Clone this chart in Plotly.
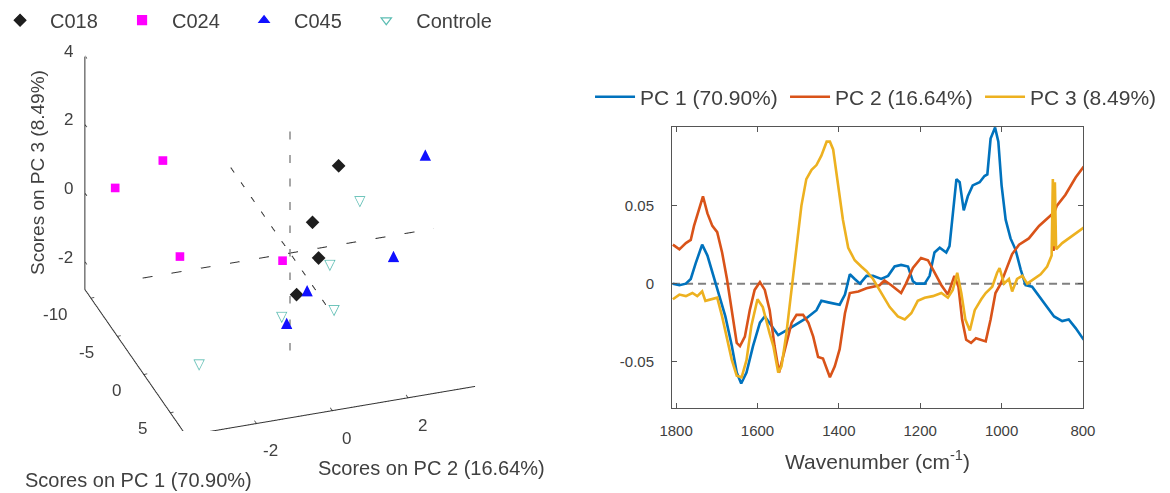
import plotly.graph_objects as go

# ---------------- Right panel: PCA loadings ----------------
pc1_wn = [1808,1792,1776,1764,1752,1736,1723,1711,1695,1679,1663,1651,1640,1627,1611,1594,1582,1566,1549,1529,1504,1479,1455,1443,1426,1398,1385,1373,1361,1348,1332,1316,1296,1279,1263,1247,1230,1218,1210,1189,1177,1165,1152,1136,1128,1120,1111,1103,1093,1083,1071,1054,1042,1035,1027,1016,1008,1000,990,978,966,953,941,925,908,892,871,851,835,818,798]
pc1_val = [0.0,-0.001,0.0,0.003,0.013,0.025,0.018,0.007,-0.006,-0.021,-0.040,-0.057,-0.064,-0.057,-0.040,-0.025,-0.021,-0.027,-0.033,-0.030,-0.026,-0.022,-0.017,-0.011,-0.012,-0.0135,-0.007,0.006,0.003,0.0,0.005,0.005,0.003,0.005,0.011,0.012,0.011,0.0015,0.0,0.0,0.005,0.020,0.023,0.020,0.024,0.043,0.067,0.065,0.047,0.056,0.063,0.065,0.069,0.070,0.093,0.100,0.091,0.063,0.041,0.029,0.022,0.009,-0.001,-0.002,-0.008,-0.0135,-0.021,-0.024,-0.023,-0.0285,-0.036]

pc2_wn = [1808,1792,1776,1764,1756,1744,1734,1723,1711,1699,1687,1675,1663,1651,1643,1631,1619,1607,1594,1582,1570,1558,1547,1533,1516,1504,1488,1475,1463,1451,1439,1422,1410,1398,1385,1373,1352,1332,1316,1300,1288,1271,1247,1235,1218,1198,1181,1165,1148,1132,1116,1106,1097,1087,1075,1063,1050,1039,1027,1015,1002,990,974,957,933,908,884,874,872,870,864,843,818,798]
pc2_val = [0.025,0.022,0.026,0.028,0.037,0.047,0.056,0.045,0.037,0.033,0.020,0.003,-0.019,-0.038,-0.040,-0.034,-0.017,-0.004,0.001,-0.004,-0.017,-0.040,-0.057,-0.042,-0.025,-0.020,-0.020,-0.025,-0.034,-0.047,-0.048,-0.060,-0.053,-0.042,-0.019,-0.006,-0.005,-0.003,-0.002,-0.001,0.002,-0.001,-0.006,0.0,0.010,0.0165,0.015,0.007,-0.001,-0.007,0.005,-0.002,-0.023,-0.036,-0.038,-0.035,-0.036,-0.037,-0.023,-0.006,0.0,0.008,0.019,0.025,0.029,0.037,0.043,0.045,0.021,0.046,0.050,0.057,0.068,0.075]

pc3_wn = [1808,1792,1776,1760,1748,1736,1728,1715,1699,1687,1675,1663,1651,1639,1627,1615,1600,1587,1570,1561,1549,1541,1529,1516,1504,1492,1480,1467,1455,1443,1430,1422,1414,1402,1390,1377,1361,1345,1332,1316,1296,1275,1255,1238,1222,1206,1189,1169,1148,1132,1120,1109,1099,1089,1078,1066,1050,1039,1023,1011,1005,994,982,974,962,949,937,920,904,888,877,874,871,869,866,851,835,818,798]
pc3_val = [-0.010,-0.007,-0.008,-0.006,-0.008,-0.005,-0.011,-0.010,-0.009,-0.021,-0.034,-0.049,-0.059,-0.060,-0.049,-0.027,-0.010,-0.015,-0.032,-0.040,-0.057,-0.053,-0.032,-0.002,0.024,0.050,0.067,0.073,0.076,0.082,0.091,0.091,0.086,0.063,0.041,0.023,0.015,0.011,0.008,0.003,-0.006,-0.015,-0.021,-0.023,-0.019,-0.011,-0.009,-0.008,-0.006,-0.009,-0.004,0.007,-0.006,-0.023,-0.030,-0.017,-0.010,-0.006,-0.002,0.007,0.010,0.0,0.003,-0.005,0.003,0.005,0.0,0.003,0.006,0.011,0.018,0.067,0.024,0.065,0.022,0.026,0.029,0.032,0.036]

loading_names = ["PC 1 (70.90%)", "PC 2 (16.64%)", "PC 3 (8.49%)"]
loading_colors = ["#0072BD", "#D95319", "#EDB120"]
x_ticks = [1800, 1600, 1400, 1200, 1000, 800]
y_ticks = [-0.05, 0, 0.05]
y_ticktext = ["-0.05", "0", "0.05"]
x_range = [1810, 800]
y_range = [-0.0797, 0.1004]

# ---------------- Left panel: PCA scores ----------------
groups = ["C018", "C024", "C045", "Controle"]
scores_pc1 = {
    "C018": [-2, -1, 0, 2],
    "C024": [-9, -8, -7, -6],
    "C045": [1, 3, 3, 5],
    "Controle": [0, 2, 5, 5, 7],
}
scores_pc2 = {
    "C018": [1.56, 0.73, 0.75, -0.11],
    "C024": [-3.36, -2.24, -1.93, 0.64],
    "C045": [3.43, 2.31, 0.03, -0.79],
    "Controle": [1.84, 0.77, 0.46, -0.92, -3.38],
}
scores_pc3 = {
    "C018": [1.81, 0.54, -0.28, -0.74],
    "C024": [0.53, 1.34, -1.29, -1.67],
    "C045": [2.44, 0.14, -0.43, -0.78],
    "Controle": [1.15, -0.06, -0.65, -0.59, -1.07],
}
pc1_range = [-11.2, 8.07]
pc2_range = [-3.89, 3.8]
pc3_range = [-2.84, 4.0]
pc1_ticks = [-10, -5, 0, 5]
pc2_ticks = [-2, 0, 2]
pc3_ticks = [-2, 0, 2, 4]

group_style = {
    "C018": dict(color="#1e1e1e", legend_symbol="diamond", kind="marker", sym3d="diamond", size=4.5, leg="legend"),
    "C024": dict(color="#ff00ff", legend_symbol="square", kind="marker", sym3d="square", size=4.5, leg="legend"),
    "C045": dict(color="#1010ff", legend_symbol="triangle-up", kind="text", glyph="▲", size=15, leg="legend"),
    "Controle": dict(color="#5cbdb3", legend_symbol="triangle-down-open", kind="text", glyph="▽", size=15, leg="legend3"),
}

FONT = "Liberation Sans, Arial, sans-serif"
TXT = "#404040"
AX = "#333333"

fig = go.Figure()

# 3D score traces
for g in groups:
    st = group_style[g]
    if st["kind"] == "marker":
        fig.add_trace(go.Scatter3d(
            x=scores_pc1[g], y=scores_pc2[g], z=scores_pc3[g], mode="markers",
            marker=dict(symbol=st["sym3d"], size=st["size"], color=st["color"],
                        line=dict(width=0)),
            showlegend=False, scene="scene", hoverinfo="skip"))
    else:
        fig.add_trace(go.Scatter3d(
            x=scores_pc1[g], y=scores_pc2[g], z=scores_pc3[g], mode="text",
            text=[st["glyph"]] * len(scores_pc1[g]), textposition="middle center",
            textfont=dict(color=st["color"], size=st["size"], family="DejaVu Sans"),
            showlegend=False, scene="scene", hoverinfo="skip"))

# dashed zero axes through the origin, spanning the axis limits
fig.add_trace(go.Scatter3d(x=[0, 0], y=[0, 0], z=pc3_range, mode="lines",
                           line=dict(color="#8a8a8a", width=3, dash="longdash"),
                           showlegend=False, scene="scene", hoverinfo="skip"))
fig.add_trace(go.Scatter3d(x=pc1_range, y=[0, 0], z=[0, 0], mode="lines",
                           line=dict(color="#333333", width=2, dash="longdash"),
                           showlegend=False, scene="scene", hoverinfo="skip"))
fig.add_trace(go.Scatter3d(x=[0, 0], y=pc2_range, z=[0, 0], mode="lines",
                           line=dict(color="#333333", width=2, dash="longdash"),
                           showlegend=False, scene="scene", hoverinfo="skip"))

# visible box edges (z edge at back-left, PC1 and PC2 edges along the floor),
# nudged a hair inside the box so they are not hidden by the invisible wall planes
x0, x1 = pc1_range
y0, y1 = pc2_range
z0, z1 = pc3_range
ex, ey, ez = 0.004 * (x1 - x0), 0.004 * (y1 - y0), 0.004 * (z1 - z0)
edge_x = [x0 + ex, x0 + ex, x1 - ex, x1 - ex]
edge_y = [y0 + ey, y0 + ey, y0 + ey, y1 - ey]
edge_z = [z1 - ez, z0 + ez, z0 + ez, z0 + ez]
# short inward tick marks
tk_x, tk_y, tk_z = [], [], []
for t in pc3_ticks:
    tk_x += [x0 + ex, x0 + 0.45, None]; tk_y += [y0 + ey, y0 + ey, None]; tk_z += [t, t, None]
for t in pc1_ticks:
    tk_x += [t, t, None]; tk_y += [y0 + ey, y0 + 0.12, None]; tk_z += [z0 + ez, z0 + ez, None]
for t in pc2_ticks:
    tk_x += [x1 - ex, x1 - 0.45, None]; tk_y += [t, t, None]; tk_z += [z0 + ez, z0 + ez, None]
fig.add_trace(go.Scatter3d(x=edge_x, y=edge_y, z=edge_z, mode="lines",
                           line=dict(color=AX, width=2), showlegend=False,
                           scene="scene", hoverinfo="skip"))
fig.add_trace(go.Scatter3d(x=tk_x, y=tk_y, z=tk_z, mode="lines",
                           line=dict(color=AX, width=1.5), showlegend=False,
                           scene="scene", hoverinfo="skip", connectgaps=False))

# legend entries for the score groups
for g in groups:
    st = group_style[g]
    fig.add_trace(go.Scatter(
        x=[None], y=[None], mode="markers", name=g,
        marker=dict(symbol=st["legend_symbol"], size=9, color=st["color"],
                    line=dict(color=st["color"], width=1.2)),
        legend=st["leg"], xaxis="x", yaxis="y"))

# loading lines
for wn, val, name, col in zip([pc1_wn, pc2_wn, pc3_wn], [pc1_val, pc2_val, pc3_val],
                              loading_names, loading_colors):
    fig.add_trace(go.Scatter(x=wn, y=val, mode="lines", name=name,
                             line=dict(color=col, width=2.6),
                             legend="legend2", xaxis="x", yaxis="y", hoverinfo="skip"))

axis3d = dict(showbackground=False, showgrid=False, zeroline=False, showline=False,
              ticks="", showspikes=False, title=dict(text=""),
              showticklabels=False, autorange=False)

# tick labels placed at the tick positions on the visible box edges
tick_font = dict(family=FONT, size=17, color=TXT)
scene_ann = []
for t in pc1_ticks:
    scene_ann.append(dict(x=t, y=y0, z=z0, text=str(t), showarrow=False,
                          xanchor="right", yanchor="middle", xshift=-20, yshift=-15, font=tick_font))
for t in pc2_ticks:
    scene_ann.append(dict(x=x1, y=t, z=z0, text=str(t), showarrow=False,
                          xanchor="center", yanchor="middle", xshift=14, yshift=-26, font=tick_font))
for t in pc3_ticks:
    scene_ann.append(dict(x=x0, y=y0, z=t, text=str(t), showarrow=False,
                          xanchor="right", yanchor="middle", xshift=-8, yshift=4, font=tick_font))

zoom3d = 1.5
view_dir = (0.822, -0.282, 0.495)   # orthographic view direction (az ~71 deg, el ~30 deg)
cam_r = 6.0
fig.update_layout(
    width=1170, height=493,
    margin=dict(l=0, r=0, t=0, b=0, autoexpand=False),
    paper_bgcolor="white", plot_bgcolor="white",
    font=dict(family=FONT, color=TXT, size=16),
    scene=dict(
        domain=dict(x=[0.0, 0.4786], y=[0.126, 0.976]),
        xaxis=dict(axis3d, range=pc1_range),
        yaxis=dict(axis3d, range=pc2_range),
        zaxis=dict(axis3d, range=pc3_range),
        aspectmode="manual",
        aspectratio=dict(x=1.0 * zoom3d, y=0.98 * zoom3d, z=0.86 * zoom3d),
        camera=dict(projection=dict(type="orthographic"),
                    eye=dict(x=view_dir[0] * cam_r, y=view_dir[1] * cam_r, z=view_dir[2] * cam_r),
                    center=dict(x=0, y=0, z=0),
                    up=dict(x=0, y=0, z=1)),
        bgcolor="white",
        annotations=scene_ann,
    ),
    xaxis=dict(domain=[0.5744, 0.9256], range=x_range, tickvals=x_ticks,
               showline=True, linecolor="#555555", linewidth=1, mirror="allticks",
               ticks="inside", ticklen=5, tickcolor="#555555", showgrid=False,
               zeroline=False, tickfont=dict(size=15, color=TXT), ticklabelstandoff=9,
               title=dict(text="Wavenumber (cm<sup>-1</sup>)", font=dict(size=21, color=TXT),
                          standoff=16)),
    yaxis=dict(domain=[0.1724, 0.7424], range=y_range, tickvals=y_ticks, ticktext=y_ticktext,
               showline=True, linecolor="#555555", linewidth=1, mirror="allticks",
               ticks="inside", ticklen=5, tickcolor="#555555", showgrid=False,
               zeroline=False, tickfont=dict(size=15, color=TXT), ticklabelstandoff=14),
    legend=dict(orientation="h", xanchor="left", yanchor="middle", bgcolor="rgba(0,0,0,0)",
                itemclick=False, x=-0.0085, y=0.959, font=dict(size=20, color=TXT),
                itemwidth=50, entrywidth=57, entrywidthmode="pixels"),
    legend3=dict(orientation="h", xanchor="left", yanchor="middle", bgcolor="rgba(0,0,0,0)",
                 itemclick=False, x=0.3045, y=0.959, font=dict(size=20, color=TXT),
                 itemwidth=50),
    legend2=dict(orientation="h", xanchor="left", yanchor="middle", bgcolor="rgba(0,0,0,0)",
                 itemclick=False, x=0.5043, y=0.803, font=dict(size=21, color=TXT),
                 itemwidth=40, entrywidth=140, entrywidthmode="pixels"),
    shapes=[dict(type="line", xref="x", yref="y", x0=x_range[0], x1=x_range[1], y0=0, y1=0,
                 line=dict(color="#808080", width=2, dash="8px,5px"), layer="below")],
    annotations=[
        dict(text="Scores on PC 3 (8.49%)", x=37 / 1170, y=1 - 173 / 493, xref="paper", yref="paper",
             xanchor="center", yanchor="middle",
             textangle=-90, showarrow=False, font=dict(size=19, color=TXT)),
        dict(text="Scores on PC 1 (70.90%)", x=138 / 1170, y=1 - 480 / 493, xref="paper", yref="paper",
             xanchor="center", yanchor="middle", showarrow=False, font=dict(size=20, color=TXT)),
        dict(text="Scores on PC 2 (16.64%)", x=431 / 1170, y=1 - 468 / 493, xref="paper", yref="paper",
             xanchor="center", yanchor="middle", showarrow=False, font=dict(size=20, color=TXT)),
    ],
)

fig.write_html("out.html", config={"displayModeBar": False},
               post_script="document.body.style.margin='0px';")
